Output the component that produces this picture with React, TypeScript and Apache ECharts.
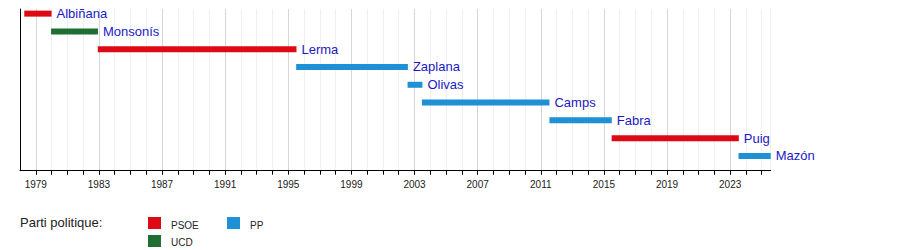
import React, { useEffect, useRef } from "react";
import * as echarts from "echarts";

const names = ["Albiñana", "Monsonís", "Lerma", "Zaplana", "Olivas", "Camps", "Fabra", "Puig", "Mazón"];
const starts = [1978.27, 1979.97, 1982.93, 1995.5, 2002.56, 2003.47, 2011.55, 2015.49, 2023.53];
const ends = [1980.0, 1982.94, 1995.52, 2002.58, 2003.5, 2011.55, 2015.5, 2023.55, 2025.57];
const parties = ["PSOE", "UCD", "PSOE", "PP", "PP", "PP", "PP", "PSOE", "PP"];
const partyColors: Record<string, string> = { PSOE: "#dd0a16", UCD: "#1f6e32", PP: "#1e90d6" };
const axisMin = 1978;
const axisMax = 2025.57;

const FONT = "'Liberation Sans', Arial, sans-serif";
const LABEL_COLOR = "#1a1ac4";

export default function App() {
  const ref = useRef<HTMLDivElement>(null);
  useEffect(() => {
    if (!ref.current) return;
    const chart = echarts.init(ref.current, undefined, { renderer: "svg" });
    const data = names.map((n, i) => [starts[i], ends[i], i, n, parties[i]]);
    chart.setOption({
      animation: false,
      grid: { left: 20, top: 9, width: 750.7, height: 161.7 },
      xAxis: {
        type: "value",
        position: "bottom",
        min: axisMin,
        max: axisMax,
        interval: 1,
        axisLine: { show: true, onZero: false, lineStyle: { color: "#000", width: 1 } },
        axisTick: { show: true, length: 4, lineStyle: { color: "#000" } },
        axisLabel: {
          color: "#1a1a1a",
          fontSize: 10,
          fontFamily: FONT,
          margin: 9,
          showMinLabel: false,
          showMaxLabel: false,
          formatter: (v: number) => (Math.round(v - 1979) % 4 === 0 ? String(Math.round(v)) : ""),
        },
        splitLine: { show: true, lineStyle: { color: ["#f0f0f0", "#d6d6d6", "#f0f0f0", "#f0f0f0"], width: 1 } },
      },
      yAxis: {
        type: "value",
        inverse: true,
        min: -0.26,
        max: 8.83,
        axisLine: { show: true, onZero: false, lineStyle: { color: "#000", width: 1 } },
        axisTick: { show: false },
        axisLabel: { show: false },
        splitLine: { show: false },
      },
      series: [
        {
          type: "custom",
          data,
          encode: { x: [0, 1], y: 2 },
          renderItem: (params: any, api: any) => {
            const s = api.value(0);
            const e = api.value(1);
            const row = api.value(2);
            const idx = params.dataIndex;
            const p0 = api.coord([s, row]);
            const p1 = api.coord([e, row]);
            const h = 6;
            return {
              type: "group",
              children: [
                {
                  type: "rect",
                  shape: { x: p0[0], y: p0[1] - h / 2, width: p1[0] - p0[0], height: h },
                  style: { fill: partyColors[parties[idx]] },
                },
                {
                  type: "text",
                  x: p1[0] + 5,
                  y: p1[1],
                  style: {
                    text: names[idx],
                    fill: LABEL_COLOR,
                    font: `13px ${FONT}`,
                    verticalAlign: "middle",
                    align: "left",
                  },
                },
              ],
            };
          },
        },
      ],
      graphic: [
        { type: "text", left: 20, top: 216, style: { text: "Parti politique:", fill: "#222", font: `13px ${FONT}` } },
        { type: "rect", shape: { x: 148, y: 217, width: 13, height: 12 }, style: { fill: partyColors.PSOE } },
        { type: "text", x: 171, y: 225, style: { text: "PSOE", fill: "#222", font: `10px ${FONT}`, verticalAlign: "middle" } },
        { type: "rect", shape: { x: 148, y: 235, width: 13, height: 12 }, style: { fill: partyColors.UCD } },
        { type: "text", x: 171, y: 242, style: { text: "UCD", fill: "#222", font: `10px ${FONT}`, verticalAlign: "middle" } },
        { type: "rect", shape: { x: 227, y: 217, width: 13, height: 12 }, style: { fill: partyColors.PP } },
        { type: "text", x: 250, y: 225, style: { text: "PP", fill: "#222", font: `10px ${FONT}`, verticalAlign: "middle" } },
      ],
    });
    return () => chart.dispose();
  }, []);
  return <div ref={ref} style={{ position: "absolute", left: 0, top: 0, width: 900, height: 250, background: "#fff" }} />;
}
